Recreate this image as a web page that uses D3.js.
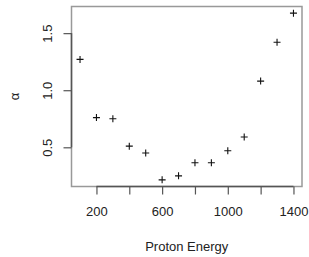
<!DOCTYPE html>
<html>
<head>
<meta charset="utf-8">
<script src="https://cdn.jsdelivr.net/npm/d3@7"></script>
<style>
  body { margin: 0; background: #fff; }
  text { font-family: "Liberation Sans", Arial, sans-serif; fill: #222; }
</style>
</head>
<body>
<div id="chart"></div>
<script>
const width = 309;
const height = 257;
const margin = {left: 71.5, right: 7, top: 6.5, bottom: 70.5};

// data
const energy = [100, 200, 300, 400, 500, 600, 700, 800, 900, 1000, 1100, 1200, 1300, 1400];
const alpha = [1.27, 0.76, 0.75, 0.51, 0.45, 0.215, 0.25, 0.365, 0.365, 0.47, 0.59, 1.08, 1.42, 1.675];
const xTicks = [200, 400, 600, 800, 1000, 1200, 1400];
const xTickLabels = [200, 600, 1000, 1400];
const yTicks = [0.5, 1.0, 1.5];

const svg = d3.select("#chart")
    .append("svg")
    .attr("width", width)
    .attr("height", height);

// R style 4% padding on each side
function padded(vals) {
    const [lo, hi] = d3.extent(vals);
    const p = (hi - lo) * 0.04;
    return [lo - p, hi + p];
}

const xScale = d3.scaleLinear()
    .domain(padded(energy))
    .range([margin.left, width - margin.right]);
const yScale = d3.scaleLinear()
    .domain(padded(alpha))
    .range([height - margin.bottom, margin.top]);

// box
svg.append("rect")
    .attr("x", margin.left)
    .attr("y", margin.top)
    .attr("width", width - margin.right - margin.left)
    .attr("height", height - margin.bottom - margin.top)
    .attr("fill", "none")
    .attr("stroke", "#999")
    .attr("stroke-width", 1.5);

// x axis
const xAxis = d3.axisBottom(xScale)
    .tickValues(xTicks)
    .tickSize(8)
    .tickSizeOuter(0)
    .tickFormat(d => xTickLabels.includes(d) ? d : "");
const gx = svg.append("g")
    .attr("transform", `translate(0,${height - margin.bottom})`)
    .call(xAxis);
gx.select(".domain")
    .attr("d", `M${xScale(xTicks[0])},0H${xScale(xTicks[xTicks.length - 1])}`)
    .attr("stroke", "#555")
    .attr("stroke-width", 1.5);
gx.selectAll(".tick line").attr("stroke", "#555").attr("stroke-width", 1.2);
gx.selectAll(".tick text")
    .attr("font-size", 13)
    .attr("y", 20)
    .attr("dy", "0.71em")
    .attr("fill", "#222");

// y axis
const yAxis = d3.axisLeft(yScale)
    .tickValues(yTicks)
    .tickSize(8)
    .tickSizeOuter(0)
    .tickFormat(d3.format(".1f"));
const gy = svg.append("g")
    .attr("transform", `translate(${margin.left},0)`)
    .call(yAxis);
gy.select(".domain")
    .attr("d", `M0,${yScale(yTicks[0])}V${yScale(yTicks[yTicks.length - 1])}`)
    .attr("stroke", "#555")
    .attr("stroke-width", 1.5);
gy.selectAll(".tick line").attr("stroke", "#555").attr("stroke-width", 1.2);
gy.selectAll(".tick text")
    .attr("font-size", 13)
    .attr("x", null)
    .attr("dy", null)
    .attr("text-anchor", "middle")
    .attr("transform", "translate(-19.5,0) rotate(-90)")
    .attr("fill", "#222");

// points as +
const s = 3.5;
svg.append("g")
    .selectAll("path")
    .data(energy)
    .enter()
    .append("path")
    .attr("d", (d, i) => {
        const cx = xScale(d), cy = yScale(alpha[i]);
        return `M${cx - s},${cy}H${cx + s}M${cx},${cy - s}V${cy + s}`;
    })
    .attr("stroke", "#111")
    .attr("stroke-width", 1.1);

// axis titles
svg.append("text")
    .attr("x", (margin.left + width - margin.right) / 2)
    .attr("y", 251)
    .attr("text-anchor", "middle")
    .attr("font-size", 13)
    .text("Proton Energy");
svg.append("text")
    .attr("transform", `translate(19,${(margin.top + height - margin.bottom) / 2}) rotate(-90)`)
    .attr("text-anchor", "middle")
    .attr("font-size", 13)
    .text("α");
</script>
</body>
</html>
